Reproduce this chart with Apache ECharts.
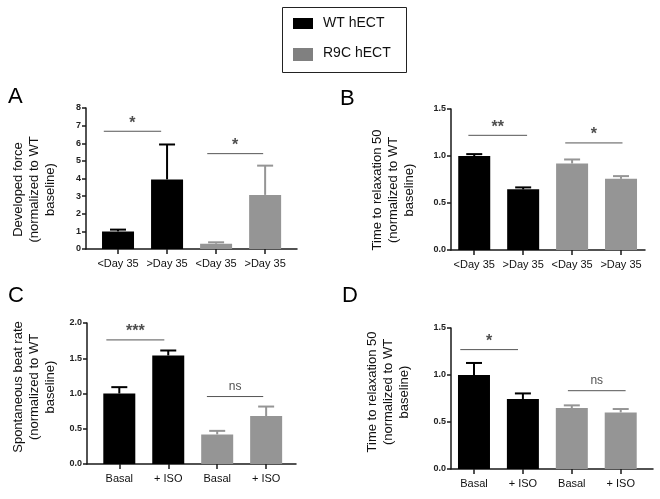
<!DOCTYPE html>
<html><head><meta charset="utf-8">
<script src="https://cdn.jsdelivr.net/npm/echarts@6/dist/echarts.min.js"></script>
<style>html,body{margin:0;padding:0;background:#fff}#c{width:660px;height:499px}</style>
</head><body><div id="c"></div>
<script>
// ---------- data ----------
var legendNames = ['WT hECT', 'R9C hECT'];
var catsDay = ['<Day 35', '>Day 35', '<Day 35', '>Day 35'];
var catsIso = ['Basal', '+ ISO', 'Basal', '+ ISO'];
var barGroup = [0, 0, 1, 1]; // 0 = WT, 1 = R9C

var aMean = [1.0, 3.95, 0.3, 3.07];
var aErr  = [1.1, 5.93, 0.38, 4.73];
var bMean = [1.0, 0.645, 0.92, 0.757];
var bErr  = [1.02, 0.666, 0.963, 0.786];
var cMean = [1.0, 1.54, 0.42, 0.68];
var cErr  = [1.09, 1.61, 0.47, 0.815];
var dMean = [1.0, 0.745, 0.649, 0.602];
var dErr  = [1.128, 0.804, 0.677, 0.638];

var aYTicks = [0, 8, 1];
var bYTicks = [0, 1.5, 0.5];
var cYTicks = [0, 2.0, 0.5];
var dYTicks = [0, 1.5, 0.5];

// significance brackets: [x1, x2, y, text]
var aSig = [[-0.29, 0.88, 6.68, '*'], [1.82, 2.96, 5.41, '*']];
var bSig = [[-0.12, 1.08, 1.22, '**'], [1.86, 3.03, 1.139, '*']];
var cSig = [[-0.265, 0.92, 1.76, '***'], [1.79, 2.94, 0.957, 'ns']];
var dSig = [[-0.28, 0.9, 1.27, '*'], [1.92, 3.1, 0.833, 'ns']];

var aTitle = 'Developed force\n(normalized to WT\nbaseline)';
var bTitle = 'Time to relaxation 50\n(normalized to WT\nbaseline)';
var cTitle = 'Spontaneous beat rate\n(normalized to WT\nbaseline)';
var dTitle = 'Time to relaxation 50\n(normalized to WT\nbaseline)';
var panelLetters = ['A', 'B', 'C', 'D'];

// ---------- styling / layout ----------
var colors = ['#000000', '#959595'];
var FONT = 'Liberation Sans, Arial, sans-serif';
var panels = [
  {mean: aMean, err: aErr, cats: catsDay, yt: aYTicks, sig: aSig, title: aTitle, dec: 0,
   grid: {left: 86, top: 108, width: 211, height: 141}, xr: [-0.653, 3.65], nameGap: 52, namePad: [0, 22, 0, 0], letter: [8, 86]},
  {mean: bMean, err: bErr, cats: catsDay, yt: bYTicks, sig: bSig, title: bTitle, dec: 1,
   grid: {left: 451, top: 109, width: 194, height: 141}, xr: [-0.475, 3.49], nameGap: 58, namePad: [0, 21, 0, 0], letter: [340, 88]},
  {mean: cMean, err: cErr, cats: catsIso, yt: cYTicks, sig: cSig, title: cTitle, dec: 1,
   grid: {left: 87, top: 323, width: 209, height: 141}, xr: [-0.66, 3.61], nameGap: 53, namePad: [0, 0, 0, 13], letter: [8, 285]},
  {mean: dMean, err: dErr, cats: catsIso, yt: dYTicks, sig: dSig, title: dTitle, dec: 1,
   grid: {left: 451, top: 328, width: 202, height: 141}, xr: [-0.47, 3.66], nameGap: 63, namePad: [0, 0, 0, 13], letter: [342, 285]}
];

var grids = [], xAxes = [], yAxes = [], series = [], graphics = [];
panels.forEach(function (p, i) {
  grids.push(Object.assign({containLabel: false}, p.grid));
  xAxes.push({
    type: 'value', gridIndex: i, min: p.xr[0], max: p.xr[1],
    splitLine: {show: false},
    axisLine: {show: true, onZero: false, lineStyle: {color: '#1a1a1a', width: 1.5}},
    axisTick: {show: true, customValues: [0, 1, 2, 3], length: 5, lineStyle: {color: '#1a1a1a', width: 1.5}},
    axisLabel: {show: true, customValues: [0, 1, 2, 3], margin: 9, fontSize: 11, color: '#111', fontFamily: FONT,
      formatter: (function (cats) { return function (v) { return cats[Math.round(v)]; }; })(p.cats)}
  });
  yAxes.push({
    type: 'value', gridIndex: i, min: p.yt[0], max: p.yt[1], interval: p.yt[2],
    splitLine: {show: false},
    axisLine: {show: true, onZero: false, lineStyle: {color: '#1a1a1a', width: 1.5}},
    axisTick: {show: true, length: 4, lineStyle: {color: '#1a1a1a', width: 1.5}},
    axisLabel: {fontSize: 9, fontWeight: 'bold', color: '#222', margin: 5, fontFamily: FONT,
      formatter: (function (d) { return function (v) { return v.toFixed(d); }; })(p.dec)},
    name: p.title, nameLocation: 'middle', nameRotate: 90, nameGap: p.nameGap,
    nameTextStyle: {fontSize: 13, lineHeight: 16, color: '#111', fontFamily: FONT, align: 'center', verticalAlign: 'middle', padding: p.namePad}
  });
  // bars
  series.push({
    type: 'bar', xAxisIndex: i, yAxisIndex: i, barWidth: 32, silent: true,
    data: p.mean.map(function (v, k) { return {value: [k, v], itemStyle: {color: colors[barGroup[k]]}}; })
  });
  // error whiskers (upper only)
  series.push({
    type: 'custom', xAxisIndex: i, yAxisIndex: i, silent: true, z: 1,
    data: p.mean.map(function (v, k) { return [k, v, p.err[k], barGroup[k]]; }),
    renderItem: function (params, api) {
      var base = api.coord([api.value(0), api.value(1)]);
      var top = api.coord([api.value(0), api.value(2)]);
      var col = colors[api.value(3)];
      return {type: 'group', children: [
        {type: 'line', shape: {x1: base[0], y1: base[1], x2: top[0], y2: top[1]}, style: {stroke: col, lineWidth: 2}},
        {type: 'line', shape: {x1: top[0] - 8, y1: top[1], x2: top[0] + 8, y2: top[1]}, style: {stroke: col, lineWidth: 2}}
      ]};
    }
  });
  // significance lines
  p.sig.forEach(function (s) {
    series.push({
      type: 'line', xAxisIndex: i, yAxisIndex: i, silent: true, symbol: 'none',
      lineStyle: {color: '#555', width: 1},
      data: [[s[0], s[2]], [s[1], s[2]]]
    });
    series.push({
      type: 'scatter', xAxisIndex: i, yAxisIndex: i, silent: true, symbolSize: 0,
      data: [[(s[0] + s[1]) / 2, s[2]]],
      label: {show: true, position: 'top', distance: s[3] === 'ns' ? 4 : 0, formatter: s[3],
        fontSize: s[3] === 'ns' ? 12 : 16, fontWeight: s[3] === 'ns' ? 'normal' : 'bold', color: '#222', fontFamily: FONT}
    });
  });
  graphics.push({type: 'text', left: p.letter[0], top: p.letter[1],
    style: {text: panelLetters[i], fontSize: 22, fill: '#000', fontFamily: FONT}});
});

// legend box
graphics.push({type: 'rect', shape: {x: 282.5, y: 7.5, width: 124, height: 65}, style: {fill: '#fff', stroke: '#222', lineWidth: 1}});
graphics.push({type: 'rect', shape: {x: 293, y: 18, width: 20, height: 11}, style: {fill: colors[0]}});
graphics.push({type: 'rect', shape: {x: 293, y: 48, width: 20, height: 13}, style: {fill: '#808080'}});
graphics.push({type: 'text', left: 323, top: 16, style: {text: legendNames[0], fontSize: 14, fill: '#111', fontFamily: FONT}});
graphics.push({type: 'text', left: 323, top: 46, style: {text: legendNames[1], fontSize: 14, fill: '#111', fontFamily: FONT}});

var chart = echarts.init(document.getElementById('c'), null, {renderer: 'canvas'});
chart.setOption({
  animation: false, backgroundColor: '#fff',
  grid: grids, xAxis: xAxes, yAxis: yAxes, series: series, graphic: graphics
});
</script></body></html>
